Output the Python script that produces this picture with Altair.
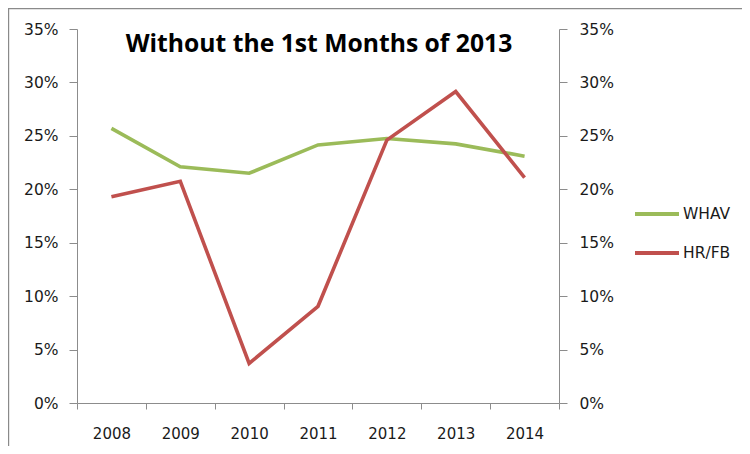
import altair as alt
import pandas as pd

years = ["2008", "2009", "2010", "2011", "2012", "2013", "2014"]
whav = [0.257, 0.221, 0.215, 0.2415, 0.2475, 0.2425, 0.231]
hrfb = [0.193, 0.2075, 0.037, 0.0905, 0.246, 0.2915, 0.211]
series_names = ["WHAV", "HR/FB"]
series_colors = ["#9BBB59", "#C0504D"]
title_text = "Without the 1st Months of 2013"

rows = []
for name, vals in zip(series_names, [whav, hrfb]):
    for y, v in zip(years, vals):
        rows.append({"Year": y, "Series": name, "Value": v})
df = pd.DataFrame(rows)

W, H = 482, 374
PL, PT = 69, 21
PR = 734 - PL - W
PB = 438 - PT - H

AXIS_COLOR = "#8C8C8C"
LABEL_COLOR = "#1a1a1a"
FONT = "DejaVu Sans"

x_enc = alt.X(
    "Year:O",
    sort=years,
    scale=alt.Scale(type="band", paddingInner=0, paddingOuter=0),
    bandPosition=0.5,
    axis=alt.Axis(
        title=None, labelAngle=0, tickBand="extent", tickSize=6,
        labelPadding=17, labelFontSize=15, labelFont=FONT, labelColor=LABEL_COLOR,
        domainColor=AXIS_COLOR, tickColor=AXIS_COLOR, grid=False,
    ),
)

y_scale = alt.Scale(domain=[0, 0.35], nice=False, zero=True)

def y_axis(orient, pad):
    return alt.Axis(
        orient=orient, title=None, format=".0%", values=[0, 0.05, 0.1, 0.15, 0.2, 0.25, 0.3, 0.35],
        tickSize=8, labelPadding=pad, labelFontSize=15.5, labelFont=FONT, labelColor=LABEL_COLOR,
        domainColor=AXIS_COLOR, tickColor=AXIS_COLOR, grid=False,
    )

lines = alt.Chart(df).mark_line(strokeWidth=3.6, strokeJoin="miter").encode(
    x=x_enc,
    y=alt.Y("Value:Q", scale=y_scale, axis=y_axis("left", 11)),
    color=alt.Color(
        "Series:N",
        sort=series_names,
        scale=alt.Scale(domain=series_names, range=series_colors),
        legend=alt.Legend(
            title=None, orient="none", legendX=556, legendY=161,
            symbolType="stroke", symbolSize=1936, symbolStrokeWidth=4,
            labelFontSize=15.5, labelFont=FONT, labelColor=LABEL_COLOR,
            rowPadding=6, labelOffset=2, padding=0,
        ),
    ),
)

right_axis = alt.Chart(df).mark_line(opacity=0).encode(
    x=x_enc,
    y=alt.Y("Value:Q", scale=y_scale, axis=y_axis("right", 12)),
)

title = alt.Chart(pd.DataFrame({"t": [title_text]})).mark_text(
    font="Open Sans", fontWeight="bold", fontSize=24.7, color="#000000",
    align="center", baseline="alphabetic",
).encode(
    text="t:N",
    x=alt.value(242),
    y=alt.value(23),
)

frame = alt.Chart(pd.DataFrame({"f": [0]})).mark_rect(
    fill=None, stroke="#8a8a8a", strokeWidth=1.2, clip=False,
).encode(
    x=alt.value(-PL + 0.6),
    x2=alt.value(W + PR + 50),
    y=alt.value(-PT + 0.6),
    y2=alt.value(H + PB + 50),
)

chart = alt.layer(frame, lines, right_axis, title).resolve_scale(
    y="independent"
).properties(
    width=W, height=H,
    padding={"left": PL, "top": PT, "right": PR, "bottom": PB},
    autosize=alt.AutoSizeParams(type="none"),
    background="white",
).configure_view(stroke=None)

chart.save("out.html", embed_options={"renderer": "svg", "actions": False})
